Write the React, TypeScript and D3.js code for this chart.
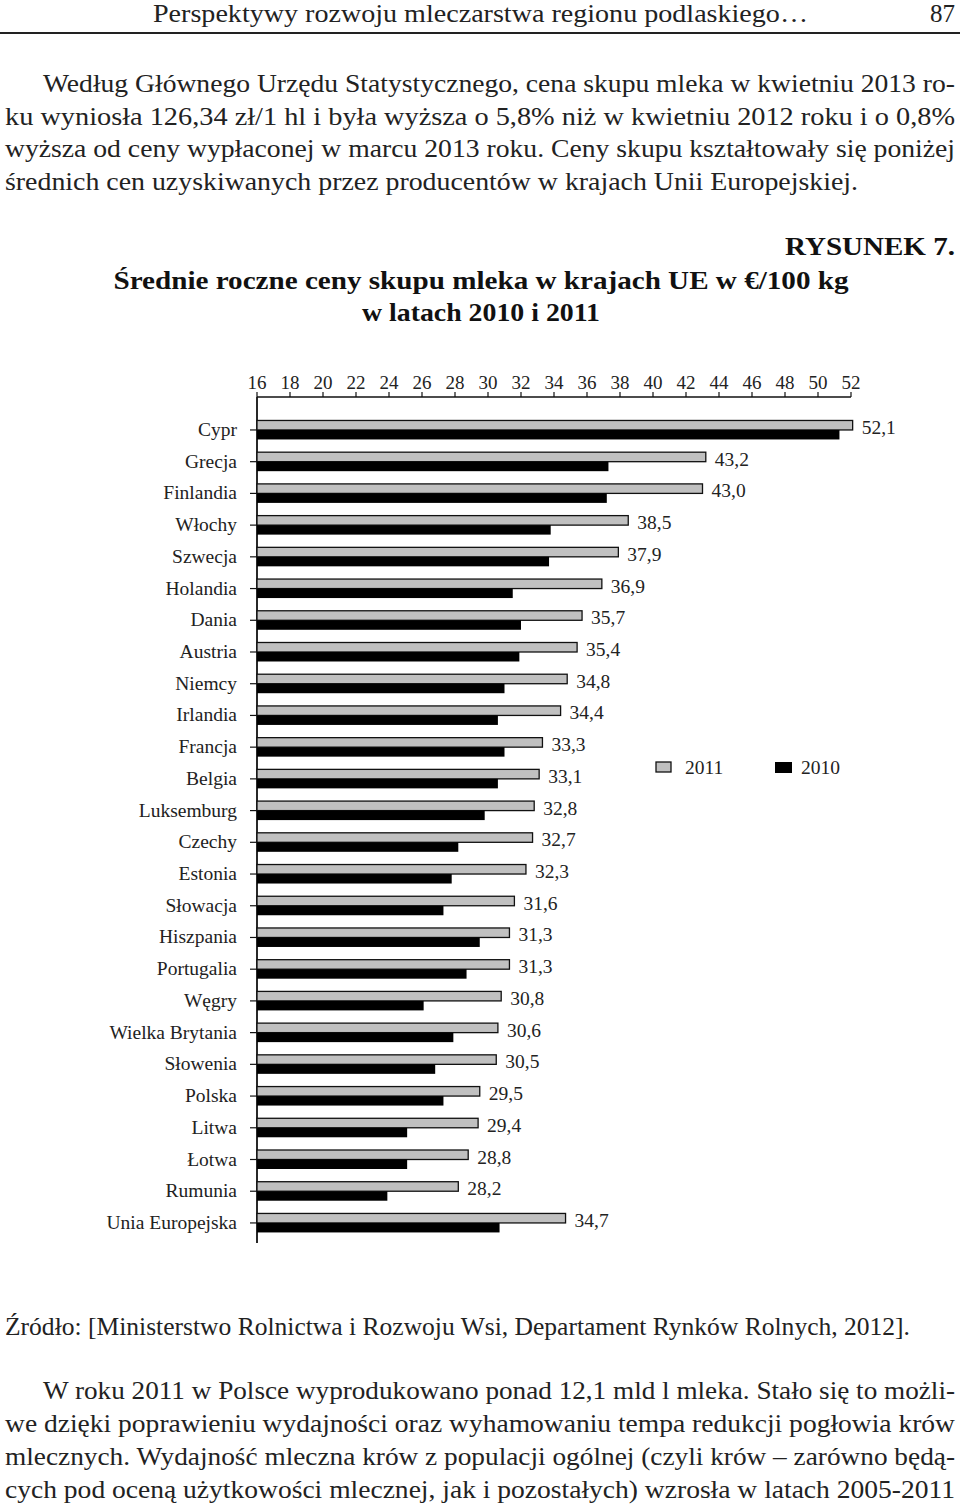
import React from "react";
import * as d3 from "d3";

const categories = [
  "Cypr", "Grecja", "Finlandia", "Włochy", "Szwecja", "Holandia", "Dania", "Austria",
  "Niemcy", "Irlandia", "Francja", "Belgia", "Luksemburg", "Czechy", "Estonia", "Słowacja",
  "Hiszpania", "Portugalia", "Węgry", "Wielka Brytania", "Słowenia", "Polska", "Litwa",
  "Łotwa", "Rumunia", "Unia Europejska",
];
const values2011 = [
  52.1, 43.2, 43.0, 38.5, 37.9, 36.9, 35.7, 35.4, 34.8, 34.4, 33.3, 33.1, 32.8, 32.7, 32.3,
  31.6, 31.3, 31.3, 30.8, 30.6, 30.5, 29.5, 29.4, 28.8, 28.2, 34.7,
];
const values2010 = [
  51.3, 37.3, 37.2, 33.8, 33.7, 31.5, 32.0, 31.9, 31.0, 30.6, 31.0, 30.6, 29.8, 28.2, 27.8,
  27.3, 29.5, 28.7, 26.1, 27.9, 26.8, 27.3, 25.1, 25.1, 23.9, 30.7,
];
const xTicks = [16, 18, 20, 22, 24, 26, 28, 30, 32, 34, 36, 38, 40, 42, 44, 46, 48, 50, 52];
const seriesNames = ["2011", "2010"];

const headerText = "Perspektywy rozwoju mleczarstwa regionu podlaskiego…";
const pageNumber = "87";
const paraTop = [
  "Według Głównego Urzędu Statystycznego, cena skupu mleka w kwietniu 2013 ro-",
  "ku wyniosła 126,34 zł/1 hl i była wyższa o 5,8% niż w kwietniu 2012 roku i o 0,8%",
  "wyższa od ceny wypłaconej w marcu 2013 roku. Ceny skupu kształtowały się poniżej",
  "średnich cen uzyskiwanych przez producentów w krajach Unii Europejskiej.",
];
const figureLabel = "RYSUNEK 7.";
const titleLines = [
  "Średnie roczne ceny skupu mleka w krajach UE w €/100 kg",
  "w latach 2010 i 2011",
];
const sourceText =
  "Źródło: [Ministerstwo Rolnictwa i Rozwoju Wsi, Departament Rynków Rolnych, 2012].";
const paraBottom = [
  "W roku 2011 w Polsce wyprodukowano ponad 12,1 mld l mleka. Stało się to możli-",
  "we dzięki poprawieniu wydajności oraz wyhamowaniu tempa redukcji pogłowia krów",
  "mlecznych. Wydajność mleczna krów z populacji ogólnej (czyli krów – zarówno będą-",
  "cych pod oceną użytkowości mlecznej, jak i pozostałych) wzrosła w latach 2005-2011",
];

const FONT = "'Liberation Serif', 'DejaVu Serif', serif";
const TEXT = "#222";

export default function App() {
  const W = 960;
  const H = 1506;
  const x = d3.scaleLinear().domain([16, 52]).range([257, 851]);
  const y = d3.scaleBand<string>().domain(categories).range([414.1, 1238.8]).padding(0);
  const c = (cat: string) => (y(cat) as number) + y.bandwidth() / 2;
  const axisY = 397;
  const barH = 9.5;

  const justified = (lines: string[], firstIndent: number, top: number, step: number, lastFull: boolean, lastEnd: number) =>
    lines.map((t, i) => {
      const x0 = i === 0 ? firstIndent : 5;
      const isLast = i === lines.length - 1;
      const end = isLast && !lastFull ? lastEnd : 955;
      return (
        <text key={i} x={x0} y={top + i * step} fontSize={25} fill={TEXT}
          textLength={end - x0} lengthAdjust="spacingAndGlyphs">{t}</text>
      );
    });

  return (
    <svg width={W} height={H} style={{ position: "absolute", left: 0, top: 0, background: "#fff" }}
      fontFamily={FONT}>
      <rect x={0} y={0} width={W} height={H} fill="#fff" />
      {/* header */}
      <text x={153} y={22} fontSize={25} fill={TEXT} textLength={655} lengthAdjust="spacingAndGlyphs">{headerText}</text>
      <text x={955} y={22} fontSize={25} fill={TEXT} textAnchor="end">{pageNumber}</text>
      <line x1={0} x2={960} y1={33} y2={33} stroke="#222" strokeWidth={2} />

      {justified(paraTop, 43, 92, 32.7, false, 858)}

      <text x={955} y={255} fontSize={25} fontWeight="bold" fill="#111" textAnchor="end"
        textLength={170} lengthAdjust="spacingAndGlyphs">{figureLabel}</text>
      <text x={481} y={289} fontSize={26} fontWeight="bold" fill="#111" textAnchor="middle"
        textLength={735} lengthAdjust="spacingAndGlyphs">{titleLines[0]}</text>
      <text x={481} y={321} fontSize={26} fontWeight="bold" fill="#111" textAnchor="middle"
        textLength={238} lengthAdjust="spacingAndGlyphs">{titleLines[1]}</text>

      {/* top axis */}
      <line x1={x(16)} x2={x(52)} y1={axisY} y2={axisY} stroke="#111" strokeWidth={1.5} />
      {xTicks.map((t) => (
        <g key={t}>
          <line x1={x(t)} x2={x(t)} y1={axisY - 5} y2={axisY} stroke="#111" strokeWidth={1.2} />
          <text x={x(t)} y={389} fontSize={19} fill={TEXT} textAnchor="middle">{t}</text>
        </g>
      ))}
      {/* left axis */}
      <line x1={x(16)} x2={x(16)} y1={axisY} y2={1243} stroke="#111" strokeWidth={1.8} />
      {categories.map((cat) => (
        <line key={cat} x1={x(16) - 7} x2={x(16)} y1={c(cat)} y2={c(cat)} stroke="#111" strokeWidth={1.2} />
      ))}

      {categories.map((cat, i) => (
        <g key={cat}>
          <text x={237} y={c(cat) + 6} fontSize={19.5} fill={TEXT} textAnchor="end">{cat}</text>
          <rect x={x(16)} y={c(cat) - barH} width={x(values2011[i]) - x(16)} height={barH}
            fill="#c0c0c0" stroke="#111" strokeWidth={1.3} />
          <rect x={x(16)} y={c(cat)} width={x(values2010[i]) - x(16)} height={barH}
            fill="#000" />
          <text x={x(values2011[i]) + 9} y={c(cat) + 4} fontSize={19.5} fill={TEXT}>
            {values2011[i].toFixed(1).replace(".", ",")}
          </text>
        </g>
      ))}

      {/* legend */}
      <rect x={656} y={762} width={15} height={10} fill="#c0c0c0" stroke="#111" strokeWidth={1.3} />
      <text x={685} y={774} fontSize={19.5} fill={TEXT}>{seriesNames[0]}</text>
      <rect x={775} y={762} width={17} height={11} fill="#000" />
      <text x={801} y={774} fontSize={19.5} fill={TEXT}>{seriesNames[1]}</text>

      <text x={5} y={1335} fontSize={25} fill={TEXT} textLength={905} lengthAdjust="spacingAndGlyphs">{sourceText}</text>

      {justified(paraBottom, 43, 1399, 33, true, 955)}
    </svg>
  );
}
